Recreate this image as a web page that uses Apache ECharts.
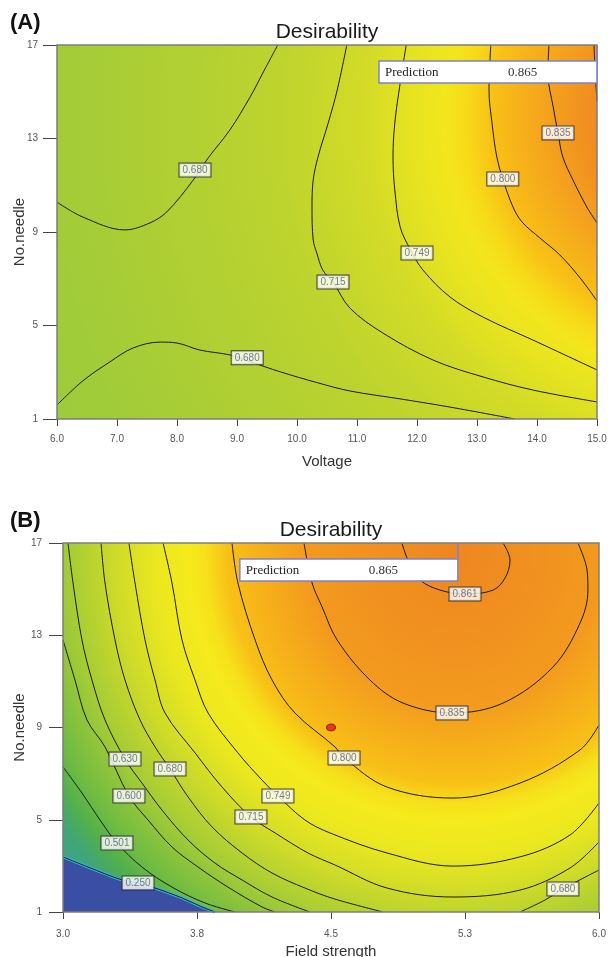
<!DOCTYPE html>
<html>
<head>
<meta charset="utf-8">
<script src="https://cdn.jsdelivr.net/npm/echarts@6/dist/echarts.min.js"></script>
<style>
  html, body { margin: 0; padding: 0; background: #fff; }
  #chart { width: 608px; height: 957px; }
</style>
</head>
<body>
<div id="chart"></div>
<script>
// ---- values ----
const xTicksA = [6, 7, 8, 9, 10, 11, 12, 13, 14, 15];   // Voltage
const xTicksB = [3.0, 3.75, 4.5, 5.25, 6.0];           // Field strength
const yTicks = [1, 5, 9, 13, 17];                      // No.needle

// (A) contour lines, [voltage, needles]
const a680Top = [[6.0, 10.28], [6.43, 9.64], [7.13, 9.09], [7.55, 9.39], [7.83, 9.86], [8.27, 11.22], [8.52, 12.17], [8.88, 13.36], [9.22, 14.78], [9.43, 15.8], [9.68, 17.0]];
const a680Low = [[6.0, 1.6], [6.43, 2.63], [6.88, 3.44], [7.27, 4.04], [7.72, 4.29], [8.0, 4.25], [8.38, 3.95], [8.88, 3.74], [9.22, 3.45], [9.72, 3.02], [10.33, 2.56], [10.88, 2.2], [11.72, 1.86], [12.55, 1.51], [13.63, 1.0]];
const a715 = [[10.83, 17.0], [10.67, 15.07], [10.52, 13.66], [10.35, 12.21], [10.27, 11.22], [10.25, 10.07], [10.27, 8.66], [10.33, 8.1], [10.43, 7.37], [10.6, 6.86], [10.88, 5.75], [11.43, 4.68], [12.27, 3.52], [13.1, 2.8], [13.93, 2.24], [15.0, 1.73]];
const a749 = [[11.82, 17.0], [11.72, 15.37], [11.63, 13.66], [11.6, 12.21], [11.63, 10.8], [11.72, 9.21], [11.9, 8.2], [12.1, 7.37], [12.55, 6.22], [13.1, 5.36], [13.93, 4.38], [15.0, 3.1]];
const a800 = [[13.23, 17.0], [13.2, 15.07], [13.25, 13.66], [13.33, 12.21], [13.43, 11.27], [13.6, 10.07], [13.75, 9.43], [14.05, 8.74], [14.38, 8.02], [14.72, 7.03], [15.0, 6.05]];
const a835 = [[14.2, 17.0], [14.18, 15.8], [14.27, 14.35], [14.35, 13.24], [14.43, 12.21], [14.6, 11.22], [14.83, 10.07], [15.0, 9.39]];
const a861 = [[14.95, 17.0], [14.97, 15.8], [15.0, 14.6]];
const labelsA = [['0.680', 8.3, 11.65], ['0.680', 9.17, 3.62], ['0.715', 10.6, 6.86], ['0.749', 12.0, 8.1], ['0.800', 13.43, 11.27], ['0.835', 14.35, 13.24]];

// (B) contour lines, [field strength, needles]
const b861 = [[4.897, 17.0], [4.931, 16.26], [4.998, 15.4], [5.11, 14.96], [5.25, 14.79], [5.407, 14.96], [5.474, 15.48], [5.502, 16.26], [5.463, 17.0]];
const b835 = [[4.349, 17.0], [4.394, 15.27], [4.45, 14.23], [4.534, 12.8], [4.718, 11.06], [4.903, 10.06], [5.177, 9.63], [5.463, 10.06], [5.742, 11.62], [5.894, 13.53], [5.938, 14.96], [5.933, 15.83], [5.882, 17.0]];
const b800 = [[3.946, 17.0], [3.979, 15.27], [4.075, 12.8], [4.17, 11.06], [4.298, 9.63], [4.522, 8.16], [4.573, 7.68], [4.813, 6.42], [5.183, 5.94], [5.558, 6.59], [5.894, 8.03], [6.0, 9.11]];
const b749 = [[3.56, 17.0], [3.61, 15.27], [3.666, 12.8], [3.739, 11.06], [3.812, 9.63], [3.979, 7.9], [4.114, 6.72], [4.203, 6.03], [4.354, 4.99], [4.494, 4.43], [4.813, 3.56], [5.183, 2.99], [5.558, 3.39], [5.838, 4.34], [6.0, 5.73]];
const b715 = [[3.369, 17.0], [3.403, 15.27], [3.459, 12.8], [3.515, 11.06], [3.571, 9.63], [3.739, 7.9], [3.89, 6.42], [4.052, 5.12], [4.187, 4.43], [4.371, 3.56], [4.522, 3.04], [4.813, 2.04], [5.183, 1.65], [5.558, 1.95], [5.838, 2.91], [6.0, 4.04]];
const b680 = [[3.213, 17.0], [3.235, 15.27], [3.291, 12.8], [3.347, 11.06], [3.431, 9.33], [3.515, 8.16], [3.599, 7.2], [3.7, 5.99], [3.834, 4.69], [4.002, 3.56], [4.17, 2.69], [4.354, 2.04], [4.522, 1.56], [4.791, 1.0]];
const b680Right = [[5.558, 1.0], [5.698, 1.52], [5.798, 2.0], [6.0, 2.82]];
const b630 = [[3.028, 17.0], [3.056, 15.27], [3.106, 12.8], [3.162, 11.06], [3.235, 9.33], [3.347, 7.63], [3.442, 6.59], [3.554, 5.42], [3.7, 4.12], [3.851, 3.12], [4.002, 2.39], [4.17, 1.65], [4.382, 1.0]];
const b600 = [[3.0, 12.8], [3.067, 11.06], [3.134, 9.33], [3.235, 8.16], [3.369, 6.03], [3.476, 4.99], [3.61, 3.82], [3.756, 2.95], [3.923, 2.08], [4.114, 1.22], [4.187, 1.0]];
const b501 = [[3.0, 7.29], [3.106, 6.16], [3.207, 4.99], [3.302, 3.99], [3.442, 2.95], [3.61, 2.08], [3.795, 1.39], [3.963, 1.0]];
const b250 = [[3.0, 3.39], [3.14, 2.95], [3.33, 2.39], [3.42, 2.26], [3.515, 2.04], [3.666, 1.61], [3.778, 1.22], [3.851, 1.0]];
const labelsB = [['0.861', 5.25, 14.79], ['0.835', 5.177, 9.63], ['0.800', 4.573, 7.68], ['0.749', 4.203, 6.03], ['0.715', 4.052, 5.12], ['0.680', 3.599, 7.2], ['0.630', 3.347, 7.63], ['0.600', 3.369, 6.03], ['0.501', 3.302, 3.99], ['0.250', 3.42, 2.26], ['0.680', 5.798, 2.0]];

const optimumB = [4.5, 9];
const predictionText = '0.865';
const flagA = [15.0, 17];
const flagB = [5.21, 17];

// centre of the colour field (where desirability peaks)
const peakA = [16.72, 13.79];
const peakB = [5.194, 16.48];

const FONT = '"Liberation Sans", Arial, sans-serif';

// colour ramp of the surface, from the peak outwards
const stopsA = [
  [0, '#ec7c1f'], [0.15, '#f08b21'], [0.214, '#f4a01e'], [0.297, '#f8c016'],
  [0.335, '#f7da19'], [0.365, '#f3e61c'], [0.414, '#e6e320'], [0.486, '#d2db27'],
  [0.6, '#bed42e'], [0.8, '#acce34'], [1, '#9ccb3b']
];
const stopsB = [
  [0, '#ee8621'], [0.28, '#f39a1e'], [0.43, '#f8c017'], [0.47, '#f6e01a'],
  [0.5, '#f5ea1c'], [0.56, '#ece81f'], [0.623, '#d6de26'], [0.672, '#c0d52d'],
  [0.73, '#a4cc36'], [0.758, '#94c63a'], [0.821, '#6ebb42'], [0.86, '#52b04c'],
  [0.9, '#3fa578'], [1, '#3aa0a0']
];

function contour(data, g) {
  return {
    type: 'line', xAxisIndex: g, yAxisIndex: g, data: data,
    smooth: 0.35, showSymbol: false, symbol: 'none', silent: true, z: 4,
    lineStyle: { color: '#1b1b1b', width: 1 }
  };
}

function labelSeries(list, g) {
  return {
    type: 'scatter', xAxisIndex: g, yAxisIndex: g, silent: true, z: 6,
    symbolSize: 1, itemStyle: { color: 'rgba(0,0,0,0)' },
    data: list.map(l => ({ name: l[0], value: [l[1], l[2]] })),
    label: {
      show: true, position: 'inside', formatter: '{b}',
      backgroundColor: '#fff', borderColor: '#222', borderWidth: 1,
      padding: [2, 3, 1, 3], fontSize: 10, color: '#4f5d79', fontFamily: FONT
    }
  };
}

function xAxis(g, ticks, name, gap, margin) {
  return {
    gridIndex: g, type: 'value', min: ticks[0], max: ticks[ticks.length - 1],
    interval: ticks[1] - ticks[0],
    axisLine: { show: false },
    axisTick: { show: true, length: 7, lineStyle: { color: '#444' } },
    splitLine: { show: false },
    axisLabel: { margin: margin, fontSize: 10, color: '#555', fontFamily: FONT, formatter: v => v.toFixed(1) },
    name: name, nameLocation: 'middle', nameGap: gap, nameMoveOverlap: false,
    nameTextStyle: { fontSize: 15, color: '#333', fontFamily: FONT }
  };
}

function yAxis(g, gap, margin) {
  return {
    gridIndex: g, type: 'value', min: yTicks[0], max: yTicks[yTicks.length - 1],
    interval: yTicks[1] - yTicks[0],
    axisLine: { show: false },
    axisTick: { show: true, length: 14, lineStyle: { color: '#444' } },
    splitLine: { show: false },
    axisLabel: { margin: margin, fontSize: 10, color: '#555', fontFamily: FONT },
    name: 'No.needle', nameLocation: 'middle', nameGap: gap, nameMoveOverlap: false,
    nameTextStyle: { fontSize: 15, color: '#333', fontFamily: FONT }
  };
}

const option = {
  animation: false,
  grid: [
    { left: 57, top: 45, width: 540, height: 374, show: false, outerBoundsMode: 'none', containLabel: false },
    { left: 63, top: 543, width: 536, height: 369, show: false, outerBoundsMode: 'none', containLabel: false }
  ],
  xAxis: [xAxis(0, xTicksA, 'Voltage', 35, 15), xAxis(1, xTicksB, 'Field strength', 32, 17)],
  yAxis: [yAxis(0, 30, 19), yAxis(1, 36, 21)],
  series: [
    contour(a680Top, 0), contour(a680Low, 0), contour(a715, 0), contour(a749, 0),
    contour(a800, 0), contour(a835, 0), contour(a861, 0),
    labelSeries(labelsA, 0),
    {
      // region below 0.250 (blue)
      type: 'line', xAxisIndex: 1, yAxisIndex: 1, data: b250, smooth: 0.2,
      showSymbol: false, symbol: 'none', silent: true, z: 3,
      lineStyle: { color: '#34b4d6', width: 3 },
      areaStyle: { origin: 'start', color: '#3a4fa3', opacity: 1 }
    },
    contour(b250, 1),
    contour(b861, 1), contour(b835, 1), contour(b800, 1), contour(b749, 1),
    contour(b715, 1), contour(b680, 1), contour(b680Right, 1), contour(b630, 1),
    contour(b600, 1), contour(b501, 1),
    labelSeries(labelsB, 1),
    {
      type: 'scatter', xAxisIndex: 1, yAxisIndex: 1, data: [optimumB], silent: true, z: 7,
      symbol: 'circle', symbolSize: [9, 7],
      itemStyle: { color: '#e3161b', borderColor: '#7a1010', borderWidth: 1 }
    }
  ]
};

const chart = echarts.init(document.getElementById('chart'));
chart.setOption(option);

function panelGraphics(g, xr, peak, radius, stops, flag, tag) {
  const tl = chart.convertToPixel({ gridIndex: g }, [xr[0], yTicks[yTicks.length - 1]]);
  const br = chart.convertToPixel({ gridIndex: g }, [xr[1], yTicks[0]]);
  const c = chart.convertToPixel({ gridIndex: g }, peak);
  const f = chart.convertToPixel({ gridIndex: g }, flag);
  const rect = { x: tl[0], y: tl[1], width: br[0] - tl[0], height: br[1] - tl[1] };
  const boxW = 218, boxTop = f[1] + 16, boxH = 22;
  return [
    {
      type: 'rect', shape: rect, z: 0, silent: true,
      style: {
        fill: new echarts.graphic.RadialGradient(c[0], c[1], radius,
          stops.map(s => ({ offset: s[0], color: s[1] })), true)
      }
    },
    { type: 'rect', shape: rect, z: 10, silent: true, style: { fill: 'none', stroke: '#7d7d7d', lineWidth: 1.5 } },
    { type: 'line', z: 20, silent: true, shape: { x1: f[0], y1: f[1], x2: f[0], y2: boxTop }, style: { stroke: '#7d83c9', lineWidth: 1.5 } },
    { type: 'rect', z: 20, silent: true, shape: { x: f[0] - boxW, y: boxTop, width: boxW, height: boxH }, style: { fill: '#fff', stroke: '#7d83c9', lineWidth: 1.5 } },
    { type: 'text', z: 21, silent: true, style: { text: 'Prediction', x: f[0] - boxW + 6, y: boxTop + boxH / 2 + 1, font: '13px "Liberation Serif", serif', fill: '#222', verticalAlign: 'middle' } },
    { type: 'text', z: 21, silent: true, style: { text: predictionText, x: f[0] - boxW + 129, y: boxTop + boxH / 2 + 1, font: '13px "Liberation Serif", serif', fill: '#333', verticalAlign: 'middle' } },
    { type: 'text', z: 21, silent: true, style: { text: 'Desirability', x: (tl[0] + br[0]) / 2, y: tl[1] - 13, font: '21px ' + FONT, fill: '#1a1a1a', align: 'center', verticalAlign: 'middle' } },
    { type: 'text', z: 21, silent: true, style: { text: tag, x: 10, y: tl[1] - 22, font: 'bold 22px ' + FONT, fill: '#111', verticalAlign: 'middle' } }
  ];
}

chart.setOption({
  graphic: [
    ...panelGraphics(0, [xTicksA[0], xTicksA[xTicksA.length - 1]], peakA, 700, stopsA, flagA, '(A)'),
    ...panelGraphics(1, [xTicksB[0], xTicksB[xTicksB.length - 1]], peakB, 530, stopsB, flagB, '(B)')
  ]
});
</script>
</body>
</html>
